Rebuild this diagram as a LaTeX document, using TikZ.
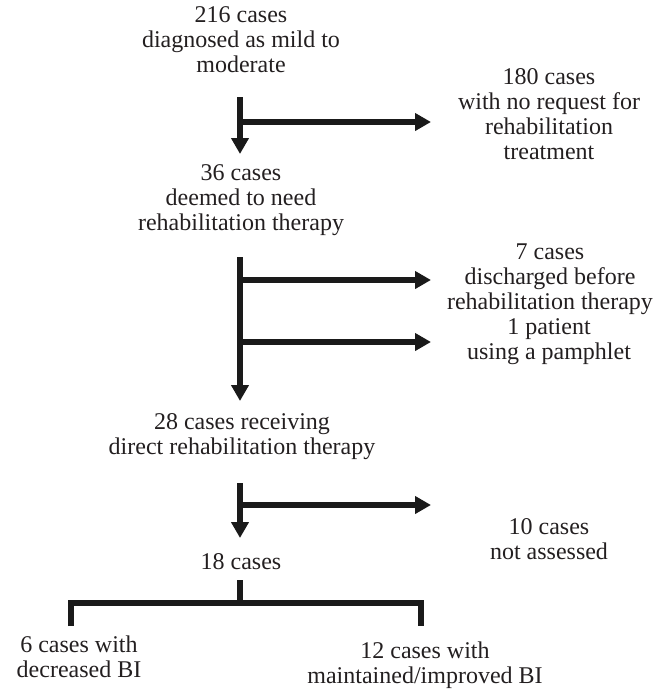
\documentclass[tikz,border=0pt]{standalone}
\usepackage{fontspec}
\setmainfont{Liberation Serif}
\usetikzlibrary{arrows.meta}
\definecolor{ink}{RGB}{35,31,32}
\definecolor{linec}{RGB}{26,26,26}
\begin{document}
\begin{tikzpicture}[x=1pt,y=-1pt,
  txt/.style={align=center,inner sep=0pt,text=ink,font=\fontsize{24}{25}\selectfont},
  conn/.style={draw=linec,line width=5.5pt},
  arr/.style={conn,-{Triangle[length=16pt,width=17pt]}}]
\useasboundingbox (0,0) rectangle (667,691);
% text nodes
\node[txt] (n216) at (241,40) {216 cases\\diagnosed as mild to\\moderate};
\node[txt] (n180) at (549,114) {180 cases\\with no request for\\rehabilitation\\treatment};
\node[txt] (n36) at (241,200) {36 cases\\deemed to need\\rehabilitation therapy};
\node[txt] (n7) at (550,279) {7 cases\\discharged before\\rehabilitation therapy};
\node[txt] (n1) at (549,342) {1 patient\\using a pamphlet};
\node[txt] (n28) at (242,437) {28 cases receiving\\direct rehabilitation therapy};
\node[txt] (n10) at (549,539) {10 cases\\not assessed};
\node[txt] (n18) at (241,562) {18 cases};
\node[txt] (n6) at (79,657) {6 cases with\\decreased BI};
\node[txt] (n12) at (425,665) {12 cases with\\maintained/improved BI};
% connector points
\coordinate (s1) at (240,97);
\coordinate (e1) at (240,154);
\coordinate (b1) at (240,122);
\coordinate (t180) at (431,122);
\coordinate (s2) at (240,257);
\coordinate (e2) at (240,401);
\coordinate (b2) at (240,280);
\coordinate (t7) at (431,280);
\coordinate (b3) at (240,342);
\coordinate (t1) at (431,342);
\coordinate (s3) at (240,483);
\coordinate (e3) at (240,538);
\coordinate (b4) at (240,505);
\coordinate (t10) at (431,505);
\coordinate (s4) at (240,580);
\coordinate (m4) at (240,603);
\coordinate (l4) at (71,603);
\coordinate (r4) at (421,603);
\coordinate (ld) at (71,626);
\coordinate (rd) at (421,626);
% connectors
\draw[arr] (s1) -- (e1);
\draw[arr] (b1) -- (t180);
\draw[arr] (s2) -- (e2);
\draw[arr] (b2) -- (t7);
\draw[arr] (b3) -- (t1);
\draw[arr] (s3) -- (e3);
\draw[arr] (b4) -- (t10);
\draw[conn] (s4) -- (m4);
\draw[conn] (ld) -- (l4) -- (r4) -- (rd);
\end{tikzpicture}
\end{document}
